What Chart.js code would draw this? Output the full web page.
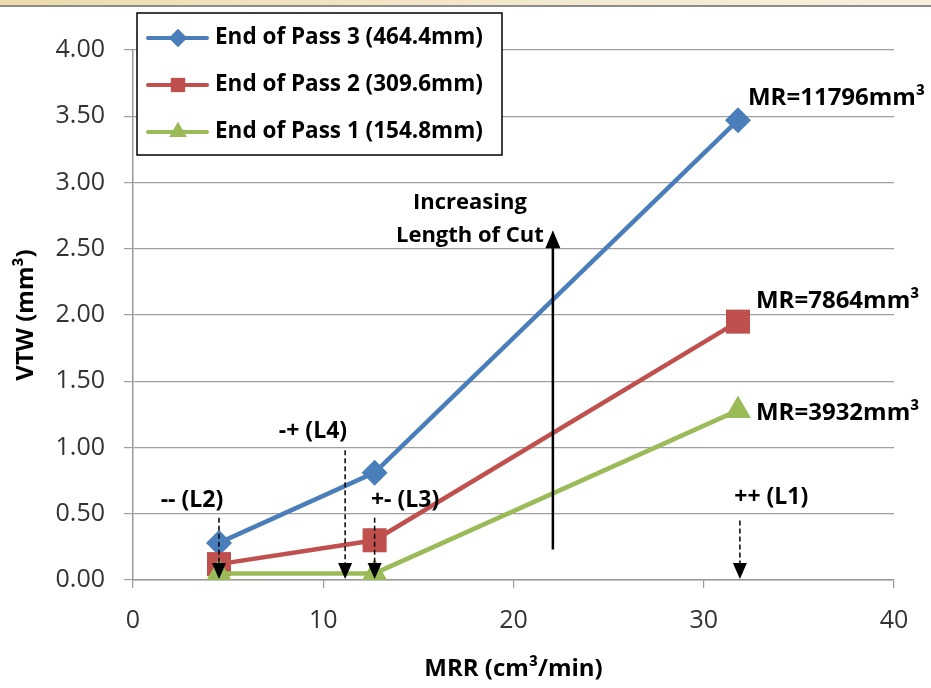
<!DOCTYPE html>
<html>
<head>
<meta charset="utf-8">
<script src="https://cdn.jsdelivr.net/npm/chart.js@4.4.1/dist/chart.umd.min.js"></script>
<style>
  html, body { margin: 0; padding: 0; background: #fff; }
  #wrap { position: relative; width: 931px; height: 688px; }
  #topbar { position: absolute; left: 0; top: 0; width: 931px; height: 5px;
    background: linear-gradient(to right, #ecdcac, #f3e9cf 60%, #f8f0dc); border-bottom: 2px solid #8c8c8c; }
  canvas { position: absolute; left: 0; top: 0; }
</style>
</head>
<body>
<div id="wrap">
  <canvas id="chart" width="931" height="688"></canvas>
  <div id="topbar"></div>
</div>
<script>
// MRR (cm3/min) for the three cutting conditions
const mrr = [4.52, 12.7, 31.8];
// VTW (mm3) per pass
const pass3 = [0.28, 0.81, 3.47];
const pass2 = [0.12, 0.30, 1.95];
const pass1 = [0.05, 0.05, 1.28];
const seriesLabels = ['End of Pass 3 (464.4mm)', 'End of Pass 2 (309.6mm)', 'End of Pass 1 (154.8mm)'];
const seriesColors = ['#4a7ebb', '#c0504d', '#9bbb59'];
const seriesPoints = ['rectRot', 'rect', 'triangle'];

// material removed labels at end of each series
const mrLabels = ['MR=11796mm³', 'MR=7864mm³', 'MR=3932mm³'];

// condition markers (dashed arrows down to the axis)
const condLabels = ['-- (L2)', '-+ (L4)', '+- (L3)', '++ (L1)'];
const condX = [4.52, 11.15, 12.7, 31.9];
const condTop = [0.47, 0.98, 0.47, 0.45];
const condLabelX = [3.1, 9.46, 14.3, 33.55];
const condLabelY = [0.60, 1.12, 0.60, 0.62];

// "Increasing Length of Cut" arrow
const cutArrowX = 22.07;
const cutArrowFrom = 0.23;
const cutArrowTo = 2.64;

const xTicks = [0, 10, 20, 30, 40];
const yTicks = [0, 0.5, 1, 1.5, 2, 2.5, 3, 3.5, 4];

const FONT = "'Open Sans', 'Liberation Sans', sans-serif";

function arrowHead(ctx, x, y, w, h, down) {
    ctx.beginPath();
    ctx.moveTo(x, y);
    ctx.lineTo(x - w / 2, down ? y - h : y + h);
    ctx.lineTo(x + w / 2, down ? y - h : y + h);
    ctx.closePath();
    ctx.fill();
}

const annotations = {
    id: 'annotations',
    afterDatasetsDraw(chart) {
        const ctx = chart.ctx;
        const xs = chart.scales.x, ys = chart.scales.y;
        ctx.save();
        ctx.fillStyle = '#000';
        ctx.strokeStyle = '#000';

        // dashed condition arrows
        condX.forEach((v, i) => {
            const px = xs.getPixelForValue(v);
            const top = ys.getPixelForValue(condTop[i]);
            const bottom = ys.getPixelForValue(0) - 1;
            ctx.lineWidth = 1.5;
            ctx.setLineDash([5, 3]);
            ctx.beginPath();
            ctx.moveTo(px, top);
            ctx.lineTo(px, bottom - 14);
            ctx.stroke();
            ctx.setLineDash([]);
            arrowHead(ctx, px, bottom, 14, 16, true);

            ctx.font = 'bold 23px ' + FONT;
            ctx.textAlign = 'center';
            ctx.textBaseline = 'middle';
            ctx.fillText(condLabels[i], xs.getPixelForValue(condLabelX[i]), ys.getPixelForValue(condLabelY[i]));
        });

        // solid arrow
        const ax = xs.getPixelForValue(cutArrowX);
        const aTop = ys.getPixelForValue(cutArrowTo);
        ctx.lineWidth = 2.5;
        ctx.beginPath();
        ctx.moveTo(ax, ys.getPixelForValue(cutArrowFrom));
        ctx.lineTo(ax, aTop + 14);
        ctx.stroke();
        arrowHead(ctx, ax, aTop, 15, 18, false);
        ctx.font = 'bold 22px ' + FONT;
        ctx.textAlign = 'center';
        ctx.textBaseline = 'middle';
        ctx.fillText('Increasing', ax - 83, aTop - 27);
        ctx.textAlign = 'right';
        ctx.fillText('Length of Cut', ax - 9, aTop + 6);

        // MR labels next to the last point of each series
        ctx.textAlign = 'left';
        ctx.font = 'bold 24px ' + FONT;
        const mrOff = [[10, -22], [18, -20], [18, 3]];
        chart.data.datasets.forEach((ds, i) => {
            const last = ds.data[ds.data.length - 1];
            const px = xs.getPixelForValue(last.x);
            const py = ys.getPixelForValue(last.y);
            ctx.fillText(mrLabels[i], px + mrOff[i][0], py + mrOff[i][1]);
        });

        // legend box
        const lx = 137, ly = 13, lw = 365, lh = 142;
        ctx.fillStyle = '#fff';
        ctx.fillRect(lx, ly, lw, lh);
        ctx.lineWidth = 1.5;
        ctx.strokeStyle = '#000';
        ctx.strokeRect(lx, ly, lw, lh);
        const legR = [9, 10, 10];
        chart.data.datasets.forEach((ds, i) => {
            const cy = ly + 25 + i * 47;
            ctx.strokeStyle = ds.borderColor;
            ctx.lineWidth = 4;
            ctx.lineCap = 'round';
            ctx.beginPath();
            ctx.moveTo(lx + 11, cy);
            ctx.lineTo(lx + 70, cy);
            ctx.stroke();
            ctx.fillStyle = ds.backgroundColor;
            ctx.beginPath();
            Chart.helpers.drawPoint(ctx, { pointStyle: ds.pointStyle, radius: legR[i], rotation: 0, borderWidth: 0 }, lx + 41, cy);
            ctx.fill();
            ctx.fillStyle = '#000';
            ctx.font = 'bold 22.5px ' + FONT;
            ctx.textAlign = 'left';
            ctx.textBaseline = 'middle';
            ctx.fillText(ds.label, lx + 78, cy);
        });
        ctx.restore();
    }
};

const pointR = [13, 17, 15];
const makeSet = (vals, i) => ({
    label: seriesLabels[i],
    data: vals.map((v, k) => ({ x: mrr[k], y: v })),
    borderColor: seriesColors[i],
    backgroundColor: seriesColors[i],
    borderWidth: 4.5,
    pointStyle: seriesPoints[i],
    pointRadius: pointR[i],
    pointBorderWidth: 0,
    order: 3 - i,
    tension: 0
});

new Chart(document.getElementById('chart'), {
    type: 'line',
    data: { datasets: [makeSet(pass3, 0), makeSet(pass2, 1), makeSet(pass1, 2)] },
    options: {
        responsive: false,
        animation: false,
        events: [],
        layout: { padding: { left: 0, right: 37, top: 50, bottom: 0 } },
        plugins: { legend: { display: false }, tooltip: { enabled: false } },
        scales: {
            x: {
                type: 'linear',
                min: 0, max: 40,
                afterBuildTicks: s => { s.ticks = xTicks.map(v => ({ value: v })); },
                afterFit: s => { s.height = 108; },
                grid: { drawOnChartArea: false, drawTicks: true, tickLength: 8, color: '#999', lineWidth: 1.2 },
                border: { color: '#999', width: 1.5 },
                ticks: { color: '#333', font: { family: FONT, size: 25 }, padding: 18 },
                title: { display: true, text: 'MRR (cm³/min)', color: '#000',
                    font: { family: FONT, size: 24, weight: 'bold' }, padding: { top: 0 } }
            },
            y: {
                min: 0, max: 4,
                afterBuildTicks: s => { s.ticks = yTicks.map(v => ({ value: v })); },
                afterFit: s => { s.width = 133; },
                grid: { color: '#a0a0a0', lineWidth: 1.2, tickLength: 9, drawTicks: true },
                border: { color: '#999', width: 1.5 },
                ticks: { color: '#333', font: { family: FONT, size: 25 }, padding: 19,
                    callback: v => v.toFixed(2) },
                title: { display: true, text: 'VTW (mm³)', color: '#000',
                    font: { family: FONT, size: 24, weight: 'bold' }, padding: { top: 12, bottom: 0 } }
            }
        }
    },
    plugins: [annotations]
});
</script>
</body>
</html>
